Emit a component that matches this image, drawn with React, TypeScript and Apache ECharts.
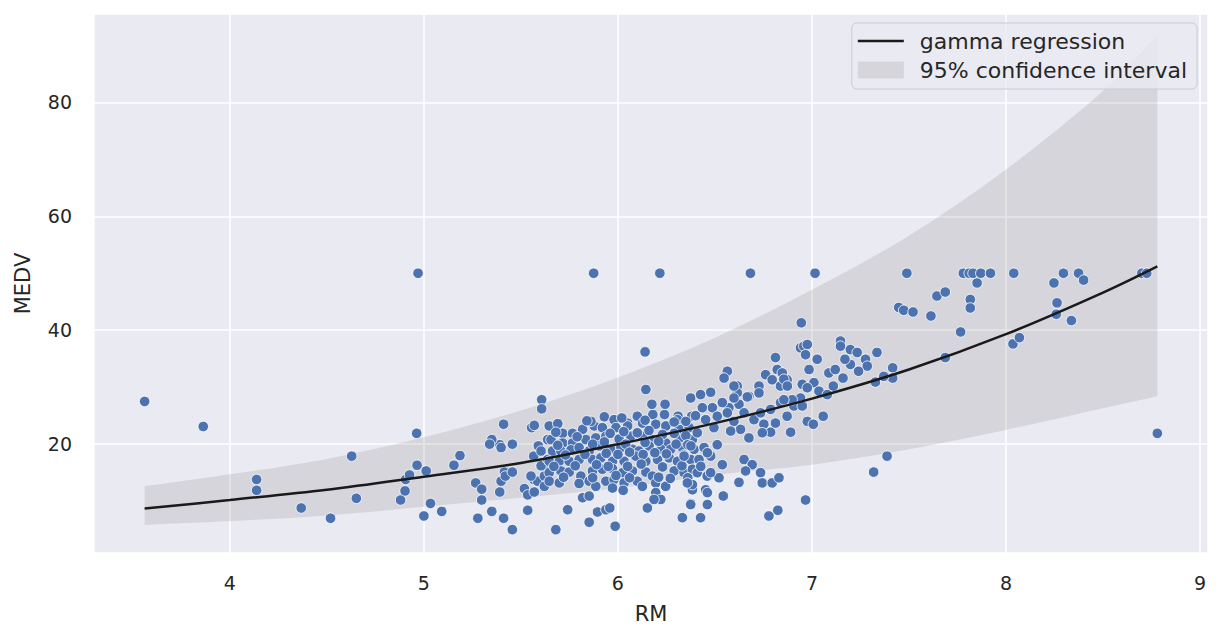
import React, { useEffect, useRef } from "react";
import * as echarts from "echarts";

// Observations: [RM, MEDV]
const leftObservations: [number, number][] = [
  [3.561, 27.5], [3.863, 23.1], [4.138, 13.8], [4.138, 11.9], [4.368, 8.8], [4.519, 7.0],
  [4.628, 17.9], [4.652, 10.5], [4.88, 10.2], [4.903, 11.8], [4.906, 13.8], [4.926, 14.6],
  [4.963, 21.9], [4.97, 50.0], [4.965, 16.3], [5.012, 15.3], [5.0, 7.4], [5.034, 9.6],
  [5.092, 8.2], [5.155, 16.3], [5.186, 18.0],
  [5.267, 13.2], [5.298, 12.1], [5.298, 10.2], [5.278, 7.0], [5.35, 8.2], [5.411, 7.0],
  [5.456, 5.0], [5.391, 11.6], [5.391, 19.9], [5.35, 20.8], [5.339, 20.0], [5.398, 19.4],
  [5.456, 20.0], [5.411, 23.5], [5.415, 15.1], [5.398, 13.5], [5.42, 14.4], [5.456, 15.1],
  [5.555, 22.9], [5.569, 23.3], [5.607, 27.8], [5.607, 26.2], [5.518, 12.2], [5.535, 11.1],
  [5.535, 8.4], [5.566, 13.8], [5.586, 13.5], [5.569, 11.6], [5.566, 17.9], [5.59, 19.7],
  [5.604, 18.8], [5.638, 20.8], [5.638, 15.6], [5.621, 14.4], [5.621, 12.6], [5.646, 23.2],
  [5.604, 16.2], [5.638, 17.3], [5.552, 14.4],
];

const centralObservations: [number, number][] = [
  [5.93, 24.8], [5.98, 24.3], [6.05, 23.7], [6.1, 24.9], [6.18, 25.2], [6.24, 25.2], [6.31, 24.9], [6.38, 24.9],
  [5.715, 21.9], [5.766, 21.9], [5.818, 22.6], [5.878, 23.2], [5.92, 22.9], [5.99, 22.9], [6.05, 23.2],
  [6.127, 23.7], [6.195, 23.5], [6.247, 23.2], [6.315, 22.6], [6.367, 22.9],
  [5.655, 20.8], [5.715, 20.2], [5.766, 20.2], [5.835, 20.8], [5.886, 21.1], [5.938, 21.4], [6.006, 20.9],
  [6.066, 21.4], [6.127, 21.4], [6.178, 20.8], [6.247, 20.2], [6.315, 20.9], [6.384, 20.8],
  [5.663, 18.8], [5.706, 18.8], [5.758, 19.0], [5.8, 19.4], [5.852, 18.8], [5.903, 19.7], [5.963, 19.1],
  [6.015, 19.4], [6.075, 19.1], [6.109, 18.8], [6.161, 19.7], [6.221, 19.1], [6.272, 19.1], [6.332, 19.4], [6.392, 19.1],
  [5.646, 17.0], [5.698, 17.0], [5.749, 17.0], [5.8, 17.3], [5.869, 17.3], [5.912, 17.6], [5.972, 17.0],
  [6.032, 17.0], [6.092, 17.9], [6.144, 17.0], [6.204, 17.3], [6.264, 17.6], [6.307, 17.0], [6.375, 17.3],
  [5.646, 15.0], [5.706, 15.3], [5.749, 15.1], [5.809, 14.4], [5.869, 15.3], [5.92, 15.6], [5.972, 15.7],
  [6.024, 15.0], [6.075, 15.3], [6.144, 15.1], [6.178, 14.4], [6.29, 15.3], [6.341, 15.0], [6.384, 15.6],
  [5.646, 13.5], [5.698, 13.2], [5.8, 13.1], [5.852, 13.5], [5.886, 12.6], [5.938, 13.5], [5.98, 13.8],
  [6.032, 13.2], [6.1, 13.5], [6.126, 12.6], [6.195, 13.2], [6.247, 12.6],
  [5.818, 10.6], [5.852, 10.9], [5.972, 12.3], [6.027, 11.9], [6.195, 11.5], [6.221, 10.3],
  [5.741, 8.5], [5.895, 8.1], [5.938, 8.5], [5.958, 8.8], [5.852, 6.3], [5.68, 5.0], [5.986, 5.6],
  [6.152, 8.8], [6.332, 7.1], [6.375, 9.6], [6.384, 12.0], [6.186, 10.3], [6.246, 12.6],
  [6.14, 36.2], [6.144, 29.6], [6.375, 28.1], [6.175, 27.0], [6.243, 27.0], [5.875, 50.0], [6.216, 50.0],
  [5.861, 24.0], [6.307, 24.3],
  [5.69, 23.6], [5.84, 24.1], [6.02, 24.6], [6.14, 24.2], [6.29, 23.9], [6.35, 24.0],
  [5.68, 22.1], [5.79, 21.3], [5.96, 21.9], [6.03, 22.2], [6.1, 22.0], [6.16, 22.4], [6.23, 21.7], [6.29, 21.9], [6.35, 21.5],
  [5.69, 19.8], [5.87, 20.0], [5.93, 20.4], [6.04, 20.0], [6.14, 20.3], [6.21, 20.5], [6.3, 20.0], [6.36, 19.9],
  [5.73, 18.1], [5.83, 18.2], [5.94, 18.4], [6.0, 18.2], [6.06, 18.6], [6.13, 18.2], [6.19, 18.5], [6.25, 18.3], [6.34, 18.1],
  [5.67, 16.1], [5.78, 16.2], [5.89, 16.4], [5.95, 16.1], [6.05, 16.1], [6.12, 16.5], [6.23, 16.0], [6.33, 16.2],
  [5.72, 14.2], [5.87, 14.1], [5.99, 14.5], [6.06, 14.1], [6.21, 14.2], [6.27, 14.0], [6.36, 14.1],
];

const upperMidObservations: [number, number][] = [
  [6.683, 50.0], [6.812, 35.2], [6.821, 33.1], [6.761, 32.2], [6.795, 31.3], [6.838, 30.2], [6.872, 31.3],
  [6.847, 32.5], [6.564, 32.8], [6.547, 31.6], [6.615, 30.2], [6.615, 29.0], [6.727, 30.2], [6.727, 29.0],
  [6.675, 28.4], [6.624, 27.0], [6.572, 26.4], [6.478, 29.1], [6.426, 28.7], [6.941, 36.9], [6.945, 41.3],
  [6.941, 28.1], [6.538, 27.3], [6.487, 26.4], [6.435, 26.4], [6.4, 25.0], [6.452, 24.3], [6.512, 24.9],
  [6.564, 25.5], [6.598, 24.0], [6.65, 25.5], [6.701, 24.3], [6.735, 25.5], [6.787, 26.1], [6.838, 27.3],
  [6.907, 26.7], [6.89, 22.1], [6.787, 22.1], [6.675, 21.1], [6.872, 24.9], [6.752, 23.5], [6.632, 22.6],
  [6.581, 22.3], [6.495, 22.9], [6.409, 22.0], [6.744, 22.0], [6.812, 23.7],
  [6.444, 19.4], [6.512, 19.9], [6.418, 17.3], [6.478, 17.9], [6.538, 16.4], [6.409, 15.0], [6.46, 14.4],
  [6.521, 14.1], [6.384, 12.9], [6.452, 12.0], [6.543, 10.9], [6.461, 9.4], [6.426, 7.1],
  [6.65, 17.3], [6.692, 16.4], [6.658, 15.3], [6.735, 15.0], [6.744, 13.2], [6.795, 13.2], [6.83, 14.1],
  [6.624, 13.3], [6.778, 7.4], [6.824, 8.4], [6.967, 10.2],
  [6.598, 30.2], [6.598, 28.1], [6.667, 28.3], [6.855, 31.4], [6.873, 30.2], [6.898, 27.8], [6.855, 27.8],
  [6.461, 18.5], [6.427, 16.1], [6.358, 13.2], [6.478, 15.0], [6.341, 17.9], [6.376, 19.7], [6.461, 11.5], [6.375, 9.4],
];

const rightObservations: [number, number][] = [
  [6.958, 37.2], [6.976, 37.5], [6.967, 35.7], [7.027, 34.9], [6.985, 33.1], [6.95, 30.5], [7.01, 30.8],
  [6.976, 29.9], [7.036, 29.3], [7.079, 28.7], [7.087, 32.5], [7.12, 33.1], [7.11, 30.2], [7.16, 31.6],
  [7.147, 38.1], [7.147, 37.2], [7.198, 36.6], [7.233, 36.1], [7.276, 34.9], [7.285, 33.7], [7.198, 34.0],
  [7.24, 32.8], [7.17, 34.9], [6.976, 24.0], [7.007, 23.5], [7.058, 24.9], [6.95, 26.7], [7.016, 50.0],
  [7.335, 36.1], [7.416, 33.4], [7.416, 31.6], [7.327, 30.9], [7.37, 31.9], [7.387, 17.9], [7.318, 15.1],
  [7.489, 50.0], [7.447, 44.0], [7.473, 43.5], [7.521, 43.2], [7.613, 42.5], [7.644, 46.0], [7.687, 46.7],
  [7.816, 45.4], [7.816, 43.9], [7.766, 39.7], [7.687, 35.2], [7.851, 48.3], [7.78, 50.0], [7.81, 50.0],
  [7.83, 50.0], [7.87, 50.0], [7.92, 50.0], [8.04, 50.0], [8.296, 50.0], [8.374, 50.0], [8.7, 50.0],
  [8.725, 50.0], [8.247, 48.3], [8.4, 48.8], [8.263, 44.8], [8.259, 42.8], [8.337, 41.7], [8.036, 37.6],
  [8.069, 38.7], [8.78, 21.9],
];

// Gamma regression curve and 95% interval, read at these RM positions
const curveRM = [3.561, 4, 4.5, 5, 5.5, 6, 6.5, 7, 7.5, 8, 8.5, 8.78];
const curveMEDV = [8.7, 10.2, 12.0, 14.3, 16.7, 20.0, 23.7, 28.0, 33.1, 39.3, 46.6, 51.2];
const ciUpper = [12.6, 14.7, 17.4, 21.2, 25.9, 31.7, 38.7, 47.1, 56.6, 68.2, 82.0, 91.8];
const ciLower = [5.8, 6.5, 7.5, 9.0, 10.6, 12.3, 14.6, 16.4, 19.1, 22.5, 26.3, 28.4];

const xTicks = [4, 5, 6, 7, 8, 9];
const yTicks = [20, 40, 60, 80];

const TEXT = "#262626";
const FONT = "DejaVu Sans";
const BAND_FILL = "rgba(128,128,128,0.2)";

// Smooth band outline (rendering only): Catmull-Rom segments through the pixel points
function splineThrough(ctx: any, pts: number[][], move: boolean) {
  const n = pts.length;
  if (move) ctx.moveTo(pts[0][0], pts[0][1]);
  else ctx.lineTo(pts[0][0], pts[0][1]);
  for (let i = 0; i < n - 1; i++) {
    const p0 = pts[Math.max(0, i - 1)];
    const p1 = pts[i];
    const p2 = pts[i + 1];
    const p3 = pts[Math.min(n - 1, i + 2)];
    const c1x = p1[0] + (p2[0] - p0[0]) / 6;
    const c1y = p1[1] + (p2[1] - p0[1]) / 6;
    const c2x = p2[0] - (p3[0] - p1[0]) / 6;
    const c2y = p2[1] - (p3[1] - p1[1]) / 6;
    ctx.bezierCurveTo(c1x, c1y, c2x, c2y, p2[0], p2[1]);
  }
}

const CiBandShape = (echarts.graphic as any).extendShape({
  type: "ciBand",
  shape: { upper: [], lower: [] },
  buildPath(ctx: any, shape: any) {
    const up = shape.upper as number[][];
    const lo = (shape.lower as number[][]).slice().reverse();
    if (!up.length || !lo.length) return;
    splineThrough(ctx, up, true);
    splineThrough(ctx, lo, false);
    ctx.closePath();
  },
});
(echarts.graphic as any).registerShape("ciBand", CiBandShape);

export default function App() {
  const ref = useRef<HTMLDivElement>(null);

  useEffect(() => {
    document.body.style.margin = "0";
    if (!ref.current) return;
    const chart = echarts.init(ref.current, undefined, { renderer: "svg" });
    const observations = [
      ...leftObservations,
      ...centralObservations,
      ...upperMidObservations,
      ...rightObservations,
    ];
    const bandData = curveRM.map((x, i) => [x, ciLower[i], ciUpper[i]]);

    chart.setOption({
      animation: false,
      backgroundColor: "#ffffff",
      textStyle: { fontFamily: FONT, color: TEXT },
      grid: {
        left: 94,
        top: 14,
        width: 1114,
        height: 539,
        show: true,
        backgroundColor: "#EAEAF2",
        borderWidth: 0,
      },
      xAxis: {
        type: "value",
        min: 3.3,
        max: 9.041,
        name: "RM",
        nameLocation: "middle",
        nameGap: 50,
        nameTextStyle: { fontSize: 21, color: TEXT, fontFamily: FONT },
        axisLine: { show: false },
        axisTick: { show: false },
        axisLabel: {
          fontSize: 19,
          color: TEXT,
          fontFamily: FONT,
          margin: 20,
          showMinLabel: false,
          showMaxLabel: false,
          formatter: (v: number) => (xTicks.includes(v) ? String(v) : ""),
        },
        splitLine: { show: true, lineStyle: { color: "#ffffff", width: 1.5 } },
      },
      yAxis: {
        type: "value",
        min: 0.9,
        max: 95.5,
        name: "MEDV",
        nameLocation: "middle",
        nameGap: 61,
        nameTextStyle: { fontSize: 21, color: TEXT, fontFamily: FONT },
        axisLine: { show: false },
        axisTick: { show: false },
        axisLabel: {
          fontSize: 19,
          color: TEXT,
          fontFamily: FONT,
          margin: 22,
          showMinLabel: false,
          showMaxLabel: false,
          formatter: (v: number) => (yTicks.includes(v) ? String(v) : ""),
        },
        splitLine: { show: true, lineStyle: { color: "#ffffff", width: 1.5 } },
      },
      legend: {
        orient: "vertical",
        right: 23,
        top: 23,
        align: "left",
        selectedMode: false,
        data: [
          {
            name: "gamma regression",
            icon: "path://M0,0 L46,0 L46,2.5 L0,2.5 Z",
            itemStyle: { color: "#1a1a1a" },
          },
          {
            name: "95% confidence interval",
            icon: "rect",
            itemStyle: { color: "#d5d5db" },
          },
        ],
        itemWidth: 46,
        itemHeight: 17,
        itemGap: 5,
        padding: [6, 10, 7, 6],
        backgroundColor: "rgba(234,234,242,0.8)",
        borderColor: "#cccccc",
        borderWidth: 1,
        borderRadius: 5,
        textStyle: {
          fontSize: 22,
          color: TEXT,
          fontFamily: FONT,
          lineHeight: 24,
          padding: [0, 0, 0, 11],
        },
      },
      series: [
        {
          name: "95% confidence interval",
          type: "custom",
          data: bandData,
          encode: { x: 0, y: [1, 2] },
          silent: true,
          z: 1,
          itemStyle: { color: "#d5d5db" },
          renderItem: (params: any, api: any) => {
            if (params.dataIndex !== 0) return null;
            const upperPts = curveRM.map((x, i) => api.coord([x, ciUpper[i]]));
            const lowerPts = curveRM.map((x, i) => api.coord([x, ciLower[i]]));
            return {
              type: "ciBand",
              shape: { upper: upperPts, lower: lowerPts },
              style: { fill: BAND_FILL, stroke: "none" },
            };
          },
        },
        {
          name: "observations",
          type: "scatter",
          data: observations,
          symbolSize: 10.5,
          itemStyle: {
            color: "#4C72B0",
            borderColor: "#ffffff",
            borderWidth: 0.8,
            opacity: 1,
          },
          z: 2,
        },
        {
          name: "gamma regression",
          type: "line",
          data: curveRM.map((x, i) => [x, curveMEDV[i]]),
          smooth: 0.35,
          symbol: "none",
          lineStyle: { color: "#1a1a1a", width: 2.5 },
          itemStyle: { color: "#1a1a1a" },
          z: 3,
        },
      ],
    });

    return () => chart.dispose();
  }, []);

  return <div ref={ref} style={{ width: 1220, height: 638 }} />;
}
